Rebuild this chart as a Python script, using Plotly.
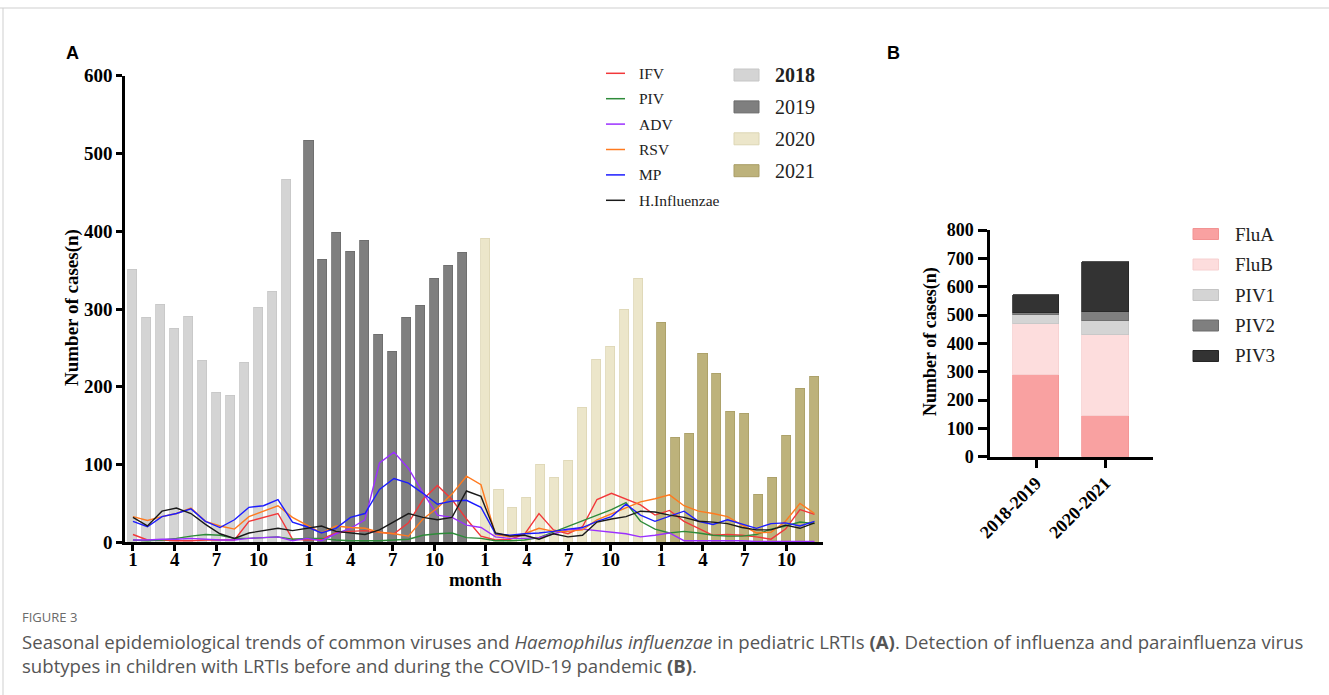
import plotly.graph_objects as go

# ---------------- data ----------------
years = ["2018", "2019", "2020", "2021"]
month_numbers = list(range(1, 13))
tick_months = [1, 4, 7, 10]

cases_2018 = [351, 289, 305, 275, 290, 233, 192, 189, 231, 302, 322, 466]
cases_2019 = [517, 363, 398, 374, 388, 267, 245, 289, 304, 339, 356, 372]
cases_2020 = [390, 68, 44, 57, 100, 83, 105, 173, 235, 251, 299, 339]
cases_2021 = [282, 135, 140, 243, 217, 168, 165, 61, 83, 137, 197, 213]

line_names = ["IFV", "PIV", "ADV", "RSV", "MP", "H.Influenzae"]
ifv = [10, 3, 3, 2, 2, 3, 3, 3, 27, 32, 37, 4,
       3, 4, 12, 14, 15, 13, 11, 25, 55, 73, 55, 30,
       8, 3, 4, 10, 37, 16, 11, 20, 55, 63, 55, 48,
       35, 41, 27, 18, 9, 10, 9, 7, 4, 17, 42, 36]
piv = [3, 2, 3, 5, 8, 10, 9, 5, 5, 6, 7, 4,
       5, 5, 3, 2, 2, 2, 3, 4, 9, 11, 12, 6,
       5, 2, 2, 3, 6, 13, 20, 27, 34, 42, 51, 27,
       17, 12, 14, 12, 9, 8, 8, 10, 17, 21, 26, 24]
adv = [3, 3, 4, 4, 5, 4, 3, 3, 5, 6, 7, 2,
       5, 2, 11, 18, 29, 102, 116, 95, 64, 35, 32, 22,
       19, 7, 5, 5, 6, 11, 16, 17, 15, 13, 11, 7,
       9, 12, 2, 2, 2, 2, 2, 1, 1, 1, 1, 1]
rsv = [33, 28, 33, 37, 44, 27, 21, 17, 33, 40, 47, 32,
       22, 12, 21, 19, 18, 13, 11, 8, 30, 44, 62, 85,
       74, 10, 7, 11, 18, 14, 14, 16, 29, 37, 45, 52,
       56, 61, 47, 40, 37, 33, 22, 12, 13, 27, 50, 37]
mp = [27, 20, 33, 37, 43, 27, 19, 29, 45, 47, 55, 26,
      20, 12, 18, 32, 37, 68, 82, 76, 63, 49, 53, 54,
      45, 11, 9, 11, 12, 14, 17, 19, 27, 33, 49, 35,
      27, 34, 40, 27, 23, 29, 24, 18, 24, 25, 21, 27]
hinf = [32, 21, 40, 44, 37, 23, 11, 5, 12, 15, 18, 15,
        18, 21, 14, 12, 10, 16, 26, 37, 32, 29, 32, 66,
        59, 12, 8, 9, 4, 11, 7, 9, 26, 30, 33, 40,
        39, 35, 32, 27, 26, 24, 19, 16, 16, 22, 18, 25]

periods = ["2018-2019", "2020-2021"]
subtype_names = ["FluA", "FluB", "PIV1", "PIV2", "PIV3"]
flua = [288, 144]
flub = [179, 287]
piv1 = [32, 49]
piv2 = [7, 32]
piv3 = [64, 174]

# ---------------- styles ----------------
W, H = 1329, 695
def PX(x): return x / W
def PY(y): return 1 - y / H

SERIF = "Liberation Serif"
SANS = "Liberation Sans"
year_colors = ["#d4d4d4", "#7f7f7f", "#ece6ca", "#bdb27b"]
year_edges = ["#c6c6c6", "#6c6c6c", "#ddd6b4", "#a99d66"]
line_colors = ["#f2383a", "#2e8b3a", "#9b30ff", "#ff7a1f", "#1c1cff", "#1a1a1a"]
sub_colors = ["#f9a1a1", "#fddddd", "#d4d4d4", "#7f7f7f", "#333333"]
sub_edges = ["#f29393", "#f6d0d0", "#c4c4c4", "#6c6c6c", "#252525"]

YEAR_STEP = 12.63   # slot spacing between year groups (layout)
BAR_W = 0.65

fig = go.Figure()

# ---- panel A bars ----
year_cases = [cases_2018, cases_2019, cases_2020, cases_2021]
all_pos = []
for yi, (yr, vals) in enumerate(zip(years, year_cases)):
    xs = [yi * YEAR_STEP + (m - 1) for m in month_numbers]
    all_pos += xs
    fig.add_trace(go.Bar(x=xs, y=vals, width=BAR_W, name=yr,
                         marker=dict(color=year_colors[yi],
                                     line=dict(color=year_edges[yi], width=0.8)),
                         xaxis="x", yaxis="y"))

# ---- panel A lines (evenly spaced over the bar span) ----
last_pos = all_pos[-1]
series = [ifv, piv, adv, rsv, mp, hinf]
n = len(ifv)
line_x = [i * last_pos / (n - 1) for i in range(n)]
for name, vals, col in zip(line_names, series, line_colors):
    fig.add_trace(go.Scatter(x=line_x, y=vals, mode="lines", name=name,
                             line=dict(color=col, width=1.4),
                             xaxis="x", yaxis="y"))

# ---- panel B stacked bars ----
for name, vals, col, edge in zip(subtype_names, [flua, flub, piv1, piv2, piv3],
                                 sub_colors, sub_edges):
    fig.add_trace(go.Bar(x=periods, y=vals, name=name, width=0.674,
                         marker=dict(color=col, line=dict(color=edge, width=0.8)),
                         xaxis="x2", yaxis="y2"))

tickvals = [yi * YEAR_STEP + (m - 1) for yi in range(len(years)) for m in tick_months]
ticktext = [str(m) for yi in range(len(years)) for m in tick_months]

tickfontA = dict(family=SERIF, size=19, color="black", weight="bold")
tickfontB = dict(family=SERIF, size=18, color="black", weight="bold")

fig.update_layout(
    width=W, height=H, margin=dict(l=0, r=0, t=0, b=0, autoexpand=False),
    paper_bgcolor="white", plot_bgcolor="white",
    showlegend=False, barmode="stack", bargap=0,
    xaxis=dict(domain=[PX(125), PX(823)], range=[-0.57, 49.5],
               tickmode="array", tickvals=tickvals, ticktext=ticktext,
               ticks="outside", ticklen=6, tickwidth=2.5, tickcolor="black",
               showline=True, linewidth=2.5, linecolor="black",
               showgrid=False, zeroline=False, tickfont=tickfontA,
               ticklabelstandoff=-8, anchor="y", automargin=False),
    yaxis=dict(domain=[PY(542.3), PY(75.7)], range=[0, 600], dtick=100,
               ticks="outside", ticklen=6, tickwidth=2.5, tickcolor="black",
               showline=True, linewidth=2.5, linecolor="black",
               showgrid=False, zeroline=False, tickfont=tickfontA,
               ticklabelstandoff=0, anchor="x", automargin=False),
    xaxis2=dict(domain=[PX(990), PX(1152.7)], type="category",
                range=[-0.664, 1.684], tickangle=-45,
                ticks="outside", ticklen=9, tickwidth=2.5, tickcolor="black",
                showline=True, linewidth=2.5, linecolor="black",
                showgrid=False, zeroline=False, tickfont=tickfontB, anchor="y2",
                ticklabelstandoff=-3, automargin=False),
    yaxis2=dict(domain=[PY(456.7), PY(230)], range=[0, 800], dtick=100,
                ticks="outside", ticklen=9, tickwidth=2.5, tickcolor="black",
                showline=True, linewidth=2.5, linecolor="black",
                showgrid=False, zeroline=False, tickfont=tickfontB,
                ticklabelstandoff=1, anchor="x2", automargin=False),
)

shapes = []
ann = []

def text(t, x, y, size, family=SERIF, color="black", xanchor="center", angle=0):
    ann.append(dict(text=t, x=PX(x), y=PY(y), xref="paper", yref="paper",
                    xanchor=xanchor, yanchor="middle", textangle=angle,
                    showarrow=False, font=dict(family=family, size=size, color=color)))

# page frame lines
shapes.append(dict(type="line", xref="paper", yref="paper", x0=0, x1=1,
                   y0=PY(8), y1=PY(8), line=dict(color="#cfcfcf", width=1)))
shapes.append(dict(type="line", xref="paper", yref="paper", x0=PX(3), x1=PX(3),
                   y0=PY(8), y1=0, line=dict(color="#cfcfcf", width=1)))

# panel labels
text("<b>A</b>", 72, 53, 18, family=SANS)
text("<b>B</b>", 893, 53, 18, family=SANS)

# axis titles
text("<b>Number of cases(n)</b>", 72, 308, 19, angle=-90)
text("<b>month</b>", 475, 579, 19)
text("<b>Number of cases(n)</b>", 930, 342, 18, angle=-90)

# legend A: lines
for k, (name, col) in enumerate(zip(line_names, line_colors)):
    yc = 73.3 + k * 25.4
    shapes.append(dict(type="line", xref="paper", yref="paper",
                       x0=PX(606), x1=PX(625), y0=PY(yc), y1=PY(yc),
                       line=dict(color=col, width=1.5)))
    text(name, 637, yc, 15.5, color="#222", xanchor="left")
# legend A: years
for k, yr in enumerate(years):
    yc = 75 + k * 31.9
    shapes.append(dict(type="rect", xref="paper", yref="paper",
                       x0=PX(734), x1=PX(759), y0=PY(yc - 6), y1=PY(yc + 6),
                       fillcolor=year_colors[k], line=dict(color=year_edges[k], width=1)))
    txt = "<b>%s</b>" % yr if k == 0 else yr
    text(txt, 773, yc, 20, color="#222", xanchor="left")

# legend B
for k, (name, col, edge) in enumerate(zip(subtype_names, sub_colors, sub_edges)):
    yc = 234 + k * 30.5
    shapes.append(dict(type="rect", xref="paper", yref="paper",
                       x0=PX(1193), x1=PX(1218.5), y0=PY(yc - 5.5), y1=PY(yc + 5.5),
                       fillcolor=col, line=dict(color=edge, width=1)))
    text(name, 1233, yc, 19, color="#222", xanchor="left")

# caption
CAP = "Open Sans"
text("FIGURE 3", 20, 617, 13, family=CAP, color="#6a6a6a", xanchor="left")
text("Seasonal epidemiological trends of common viruses and <i>Haemophilus influenzae</i> "
     "in pediatric LRTIs <b>(A)</b>. Detection of influenza and parainfluenza virus",
     20, 641, 18.6, family=CAP, color="#555555", xanchor="left")
text("subtypes in children with LRTIs before and during the COVID-19 pandemic <b>(B)</b>.",
     20, 665, 18.6, family=CAP, color="#555555", xanchor="left")

fig.update_layout(shapes=shapes, annotations=ann)
fig.write_html("out.html")
